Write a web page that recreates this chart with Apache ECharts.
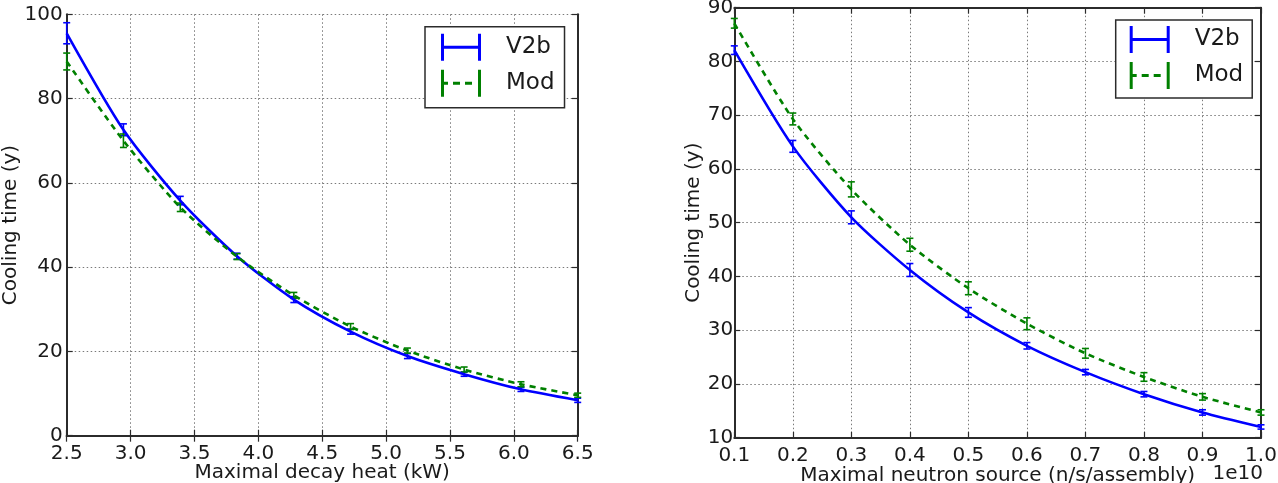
<!DOCTYPE html>
<html><head><meta charset="utf-8">
<script src="https://cdn.jsdelivr.net/npm/echarts@6/dist/echarts.min.js"></script>
<style>html,body{margin:0;padding:0;background:#fff}#c{width:1278px;height:483px}</style>
</head><body><div id="c"></div>
<script>
// ---- data: left panel (decay heat) ----
const heatX = [2.5, 2.944, 3.389, 3.833, 4.278, 4.722, 5.167, 5.611, 6.056, 6.5];
const heatV2b = [95.5, 72.6, 55.8, 42.6, 32.3, 24.7, 18.9, 14.6, 11.0, 8.4];
const heatV2bErr = [2.5, 1.4, 1.0, 0.7, 0.7, 0.6, 0.6, 0.5, 0.5, 0.5];
const heatMod = [88.8, 70.0, 54.2, 42.5, 33.3, 25.9, 20.2, 15.7, 12.2, 9.6];
const heatModErr = [2.0, 1.6, 1.0, 0.7, 0.7, 0.7, 0.6, 0.6, 0.6, 0.5];
// ---- data: right panel (neutron source, x in units of 1e10) ----
const neutX = [0.1, 0.2, 0.3, 0.4, 0.5, 0.6, 0.7, 0.8, 0.9, 1.0];
const neutV2b = [82.1, 64.2, 51.0, 41.2, 33.3, 27.1, 22.2, 18.1, 14.7, 12.0];
const neutV2bErr = [0.8, 1.1, 1.2, 1.2, 0.9, 0.6, 0.5, 0.5, 0.5, 0.4];
const neutMod = [87.1, 69.3, 56.2, 45.9, 37.8, 31.2, 25.7, 21.3, 17.6, 14.7];
const neutModErr = [0.9, 1.1, 1.4, 1.2, 1.2, 1.1, 0.9, 0.8, 0.6, 0.5];
// ---- labels ----
const seriesNames = ['V2b', 'Mod'];
const heatXTitle = 'Maximal decay heat (kW)';
const neutXTitle = 'Maximal neutron source (n/s/assembly)';
const yTitle = 'Cooling time (y)';
const neutOffsetText = '1e10';

const FONT = 'DejaVu Sans';
const TXT = '#1a1a1a';
const BLUE = '#0000ff';
const GREEN = '#008000';
const AX = '#2b2b2b';

const iconV2b = 'path://M0,0h3v27h-3z M3,12h34v3h-34z M37,0h3v27h-3z';
const iconMod = 'path://M0,0h3v27h-3z M3,12h4v3h-4z M12,12h7v3h-7z M24,12h7v3h-7z M37,0h3v27h-3z';

function pairs(x, y) { return x.map((v, i) => [v, y[i]]); }

function lineSeries(name, xi, yi, x, y, color, dashed) {
  return {
    type: 'line', name, xAxisIndex: xi, yAxisIndex: yi,
    data: pairs(x, y), smooth: 0.25,
    showSymbol: false, symbol: 'none', z: 4,
    itemStyle: { color },
    lineStyle: { color, width: 2.6, type: dashed ? [6, 5] : 'solid' },
    emphasis: { disabled: true }
  };
}

function errSeries(name, xi, yi, x, y, e, color) {
  return {
    type: 'custom', name: name + ' err', xAxisIndex: xi, yAxisIndex: yi, z: 3,
    silent: true,
    data: x.map((v, i) => [v, y[i] - e[i], y[i] + e[i]]),
    encode: { x: 0, y: [1, 2] },
    renderItem(params, api) {
      const lo = api.coord([api.value(0), api.value(1)]);
      const hi = api.coord([api.value(0), api.value(2)]);
      const w = 3.5;
      const st = { stroke: color, lineWidth: 1.6 };
      return { type: 'group', children: [
        { type: 'line', shape: { x1: lo[0], y1: lo[1], x2: hi[0], y2: hi[1] }, style: st },
        { type: 'line', shape: { x1: lo[0] - w, y1: lo[1], x2: lo[0] + w, y2: lo[1] }, style: st },
        { type: 'line', shape: { x1: hi[0] - w, y1: hi[1], x2: hi[0] + w, y2: hi[1] }, style: st }
      ]};
    }
  };
}

const gridLine = { show: true, lineStyle: { color: '#7a7a7a', type: [1.5, 2.5], width: 1 } };
const axisLine = { show: true, lineStyle: { color: AX, width: 2 } };
const tickIn = { show: true, inside: true, length: 6, lineStyle: { color: AX, width: 1.2 } };

function xMain(gi, min, max, interval, name, gap) {
  return {
    type: 'value', gridIndex: gi, min, max, interval, position: 'bottom',
    axisLine, axisTick: tickIn, splitLine: gridLine,
    axisLabel: { fontFamily: FONT, fontSize: 20, color: TXT, margin: 8, showMinLabel: true, showMaxLabel: true,
      formatter: v => v.toFixed(1) },
    name, nameLocation: 'middle', nameGap: gap, nameMoveOverlap: false,
    nameTextStyle: { fontFamily: FONT, fontSize: 20, color: TXT }
  };
}
function xTop(gi, min, max, interval) {
  return { type: 'value', gridIndex: gi, min, max, interval, position: 'top',
    axisLine, axisTick: tickIn, splitLine: { show: false }, axisLabel: { show: false } };
}
function yMain(gi, min, max, interval, gap, margin) {
  return {
    type: 'value', gridIndex: gi, min, max, interval, position: 'left',
    axisLine, axisTick: tickIn, splitLine: gridLine,
    axisLabel: { fontFamily: FONT, fontSize: 20, color: TXT, margin, showMinLabel: true, showMaxLabel: true },
    name: yTitle, nameLocation: 'middle', nameGap: gap, nameRotate: 90, nameMoveOverlap: false,
    nameTextStyle: { fontFamily: FONT, fontSize: 20, color: TXT }
  };
}
function yRight(gi, min, max, interval) {
  return { type: 'value', gridIndex: gi, min, max, interval, position: 'right',
    axisLine, axisTick: tickIn, splitLine: { show: false }, axisLabel: { show: false } };
}

function legendAt(left, top, pad, fontSize) {
  return {
    orient: 'vertical', left, top, padding: pad, itemGap: 9,
    itemWidth: 40, itemHeight: 27, selectedMode: false,
    borderColor: AX, borderWidth: 1.5, backgroundColor: '#fff', borderRadius: 0,
    itemStyle: { borderWidth: 0 },
    textStyle: { fontFamily: FONT, fontSize, color: TXT, padding: [0, 0, 0, 20] },
    data: [{ name: seriesNames[0], icon: iconV2b }, { name: seriesNames[1], icon: iconMod }]
  };
}

const option = {
  animation: false,
  backgroundColor: '#fff',
  textStyle: { fontFamily: FONT },
  grid: [
    { left: 66.7, top: 14.3, width: 511, height: 421.4, outerBoundsMode: 'none', containLabel: false },
    { left: 734.3, top: 7.7, width: 526.7, height: 430, outerBoundsMode: 'none', containLabel: false }
  ],
  xAxis: [
    xMain(0, 2.5, 6.5, 0.5, heatXTitle, 27),
    xTop(0, 2.5, 6.5, 0.5),
    xMain(1, 0.1, 1.0, 0.1, neutXTitle, 28),
    xTop(1, 0.1, 1.0, 0.1)
  ],
  yAxis: [
    yMain(0, 0, 100, 20, 46, 4),
    yRight(0, 0, 100, 20),
    yMain(1, 10, 90, 10, 31, 1),
    yRight(1, 10, 90, 10)
  ],
  legend: [
    legendAt(425, 26.7, [7, 10, 11, 16], 23),
    legendAt(1115.7, 20, [6, 9, 9, 14], 23)
  ],
  graphic: [
    { type: 'text', x: 1263, y: 474, z: 10,
      style: { text: neutOffsetText, font: '20px "DejaVu Sans"', fill: TXT, textAlign: 'right', textVerticalAlign: 'middle' } }
  ],
  series: [
    errSeries('V2b', 0, 0, heatX, heatV2b, heatV2bErr, BLUE),
    errSeries('Mod', 0, 0, heatX, heatMod, heatModErr, GREEN),
    lineSeries('V2b', 0, 0, heatX, heatV2b, BLUE, false),
    lineSeries('Mod', 0, 0, heatX, heatMod, GREEN, true),
    errSeries('V2b', 2, 2, neutX, neutV2b, neutV2bErr, BLUE),
    errSeries('Mod', 2, 2, neutX, neutMod, neutModErr, GREEN),
    lineSeries('V2b', 2, 2, neutX, neutV2b, BLUE, false),
    lineSeries('Mod', 2, 2, neutX, neutMod, GREEN, true)
  ]
};
const chart = echarts.init(document.getElementById('c'), null, { renderer: 'canvas' });
chart.setOption(option);
</script>
</body></html>
